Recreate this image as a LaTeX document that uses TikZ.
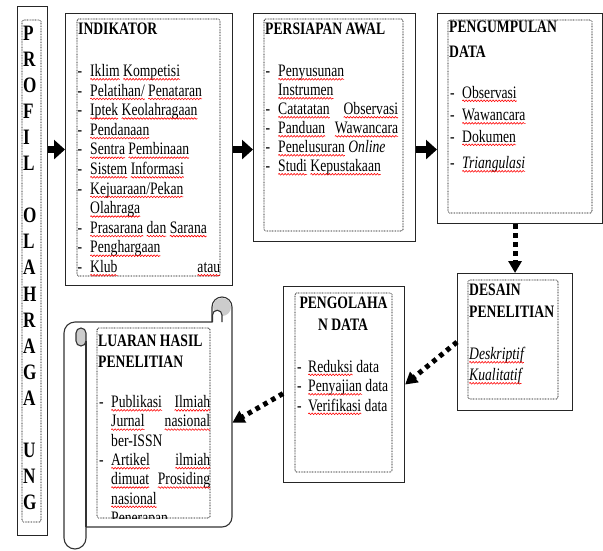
\documentclass[tikz,border=0pt]{standalone}
\usepackage{fontspec}
\setmainfont{Liberation Serif}[FakeStretch=0.78]
\usetikzlibrary{arrows.meta,calc,decorations.pathmorphing}
\newcommand\redsq[1]{\tikz[baseline=(sqw.base),x=1pt,y=1pt]{\node[inner sep=0pt,outer sep=0pt,anchor=base west] (sqw) at (0,0) {#1};\draw[overlay,red,line width=0.6pt,decorate,decoration={snake,segment length=3pt,amplitude=0.8pt}] ([yshift=-2.8pt]sqw.base west) -- ([yshift=-2.8pt]sqw.base east);}}
\newcommand\fitem{\fontsize{17.5}{20}\selectfont}
\newcommand\fprof{\fontsize{22}{26}\selectfont\bfseries}
\newcommand\dashitem[5]{\node[itm] (#1-d) at (#2,#4) {-};\node[itm] (#1) at (#3,#4) {#5};}
\begin{document}
\begin{tikzpicture}[x=1pt,y=-1pt,
  obox/.style={draw=black!85, line width=1.1pt, fill=white, anchor=north west, inner sep=0pt},
  ibox/.style={draw=black, line width=0.7pt, dash pattern=on 0.8pt off 0.8pt, rounded corners=1.5pt},
  itm/.style={anchor=base west, inner sep=0pt, font=\fitem},
  ttl/.style={anchor=base west, inner sep=0pt, font=\fitem\bfseries},
  plet/.style={anchor=base west, inner sep=0pt, font=\fprof},
  blk/.style={line width=7pt, -{Triangle[length=11pt,width=19pt]}, black},
  dots/.style={line width=5pt, dash pattern=on 4.5pt off 4.5pt, -{Triangle[length=12pt,width=13pt]}, black},
  scrl/.style={draw=black!80, line width=1.1pt}]
\useasboundingbox (0,0) rectangle (603,550);
\fill[white] (0,0) rectangle (603,550);

% ---------- boxes ----------
\node[obox, minimum width=30pt, minimum height=529pt] (prof) at (17,6) {};
\node[obox, minimum width=167pt, minimum height=272pt] (ind) at (65,13) {};
\node[obox, minimum width=162pt, minimum height=228pt] (pers) at (253,13) {};
\node[obox, minimum width=165pt, minimum height=210pt] (peng) at (437,13) {};
\node[obox, minimum width=115pt, minimum height=137pt] (des) at (457,273) {};
\node[obox, minimum width=121pt, minimum height=196pt] (olah) at (283,286) {};
\node[anchor=north west, inner sep=0pt, minimum width=168pt, minimum height=251pt] (lua) at (64,297) {};

% ---------- scroll ----------
\filldraw[scrl, fill=white] (75,322) -- (212,322) -- (212,307)
  arc[start angle=180,end angle=0,radius=10pt] -- (232,517)
  arc[start angle=0,end angle=-90,radius=10pt] -- (86,527) -- (86,538)
  arc[start angle=0,end angle=-180,radius=11pt] -- (64,333)
  arc[start angle=180,end angle=90,radius=11pt] -- cycle;
\fill[gray!40] (222,307) circle[radius=9pt];
\filldraw[scrl, fill=white] (212.5,322) -- (212.5,315) arc[start angle=180,end angle=0,radius=4.75pt] -- (222,322);
\filldraw[scrl, fill=gray!40] (86,333) arc[start angle=0,end angle=180,radius=5pt] -- (76,341)
  arc[start angle=180,end angle=360,radius=5pt] -- cycle;
\draw[scrl] (86,341) -- (86,527);

% ---------- inner dotted boxes ----------
\draw[ibox] (22,20) rectangle (41,522);
\draw[ibox] (77,19) rectangle (220,276);
\draw[ibox] (264,19) rectangle (403,231);
\draw[ibox] (448,20) rectangle (592,213);
\draw[ibox] (468,280) rectangle (558,399);
\draw[ibox] (295,293) rectangle (392,472);
\draw[ibox] (97,328) rectangle (210,518);

% ---------- connectors ----------
\draw[blk] (prof.east |- ind.west) -- (ind.west);
\draw[blk] (ind.east) -- (ind.east -| pers.west);
\draw[blk] (ind.east -| pers.east) -- (ind.east -| peng.west);
\draw[dots] (des.north |- peng.south) -- (des.north);
\draw[dots] (des.west) -- (olah.east);
\draw[dots] ([yshift=-9pt]olah.west) -- (lua.east);

% ---------- PROFIL letters ----------
\foreach \l [count=\i from 0] in {P,R,O,F,I,L,{},O,L,A,H,R,A,G,A,{},U,N,G}
  \node[plet] (pl\i) at (23,{40.5+26.05*\i}) {\l};

% ---------- INDIKATOR ----------
\node[ttl] (indt) at (78,34.5) {INDIKATOR};
\dashitem{i0}{77.5}{90}{76.5}{\redsq{Iklim} \redsq{Kompetisi}}
\dashitem{i1}{77.5}{90}{96.1}{\redsq{Pelatihan/} \redsq{Penataran}}
\dashitem{i2}{77.5}{90}{115.7}{\redsq{Iptek} \redsq{Keolahragaan}}
\dashitem{i3}{77.5}{90}{135.3}{\redsq{Pendanaan}}
\dashitem{i4}{77.5}{90}{154.9}{\redsq{Sentra} \redsq{Pembinaan}}
\dashitem{i5}{77.5}{90}{174.5}{\redsq{Sistem} \redsq{Informasi}}
\dashitem{i6}{77.5}{90}{194.1}{\redsq{Kejuaraan/Pekan}}
\node[itm] (i7) at (90,213.7) {\redsq{Olahraga}};
\dashitem{i8}{77.5}{90}{233.3}{\redsq{Prasarana} \redsq{dan} \redsq{Sarana}}
\dashitem{i9}{77.5}{90}{252.9}{\redsq{Penghargaan}}
\dashitem{i10}{77.5}{90}{272.5}{\makebox[130pt][s]{\redsq{Klub} \redsq{atau}}}

% ---------- PERSIAPAN AWAL ----------
\node[ttl] (perst) at (265,34.5) {PERSIAPAN AWAL};
\dashitem{p0}{265.5}{278}{76.5}{\redsq{Penyusunan}}
\node[itm] (p1) at (278,95.5) {\redsq{Instrumen}};
\dashitem{p2}{265.5}{278}{114.5}{\makebox[120pt][s]{\redsq{Catatatan} \redsq{Observasi}}}
\dashitem{p3}{265.5}{278}{133.5}{\makebox[120pt][s]{\redsq{Panduan} \redsq{Wawancara}}}
\dashitem{p4}{265.5}{278}{152.5}{\redsq{Penelusuran} \textit{Online}}
\dashitem{p5}{265.5}{278}{171.5}{\redsq{Studi} \redsq{Kepustakaan}}

% ---------- PENGUMPULAN DATA ----------
\node[ttl] (pengt1) at (449,32.5) {PENGUMPULAN};
\node[ttl] (pengt2) at (449,57.5) {DATA};
\dashitem{g0}{450}{462}{98}{\redsq{Observasi}}
\dashitem{g1}{450}{462}{120.5}{\redsq{Wawancara}}
\dashitem{g2}{450}{462}{142}{\redsq{Dokumen}}
\dashitem{g3}{450}{462}{168.5}{\textit{\redsq{Triangulasi}}}

% ---------- DESAIN PENELITIAN ----------
\node[ttl] (dest1) at (469,295.5) {DESAIN};
\node[ttl] (dest2) at (469,317) {PENELITIAN};
\node[itm] (d0) at (469,359.5) {\textit{\redsq{Deskriptif}}};
\node[itm] (d1) at (469,380.5) {\textit{\redsq{Kualitatif}}};

% ---------- PENGOLAHAN DATA ----------
\node[ttl, anchor=base] (olaht1) at (343.5,308) {PENGOLAHA};
\node[ttl, anchor=base] (olaht2) at (343,330) {N DATA};
\dashitem{o0}{297}{308}{372}{\redsq{Reduksi} data}
\dashitem{o1}{297}{308}{391.5}{\redsq{Penyajian} data}
\dashitem{o2}{297}{308}{411}{\redsq{Verifikasi} data}

% ---------- LUARAN HASIL PENELITIAN ----------
\node[ttl] (luat1) at (98,346.5) {LUARAN HASIL};
\node[ttl] (luat2) at (98,367.5) {PENELITIAN};
\dashitem{l0}{99}{111}{407.5}{\makebox[99pt][s]{\redsq{Publikasi} \redsq{Ilmiah}}}
\node[itm] (l1) at (111,426.8) {\makebox[99pt][s]{\redsq{Jurnal} \redsq{nasional}}};
\node[itm] (l2) at (111,446.1) {ber-ISSN};
\dashitem{l3}{99}{111}{465.4}{\makebox[99pt][s]{\redsq{Artikel} \redsq{ilmiah}}}
\node[itm] (l4) at (111,484.7) {\makebox[99pt][s]{\redsq{dimuat} \redsq{Prosiding}}};
\node[itm] (l5) at (111,504) {\redsq{nasional}};
\begin{scope}
  \clip (97,328) rectangle (210,518);
  \node[itm] (l6) at (111,523.3) {\redsq{Penerapan}};
\end{scope}
\end{tikzpicture}
\end{document}
